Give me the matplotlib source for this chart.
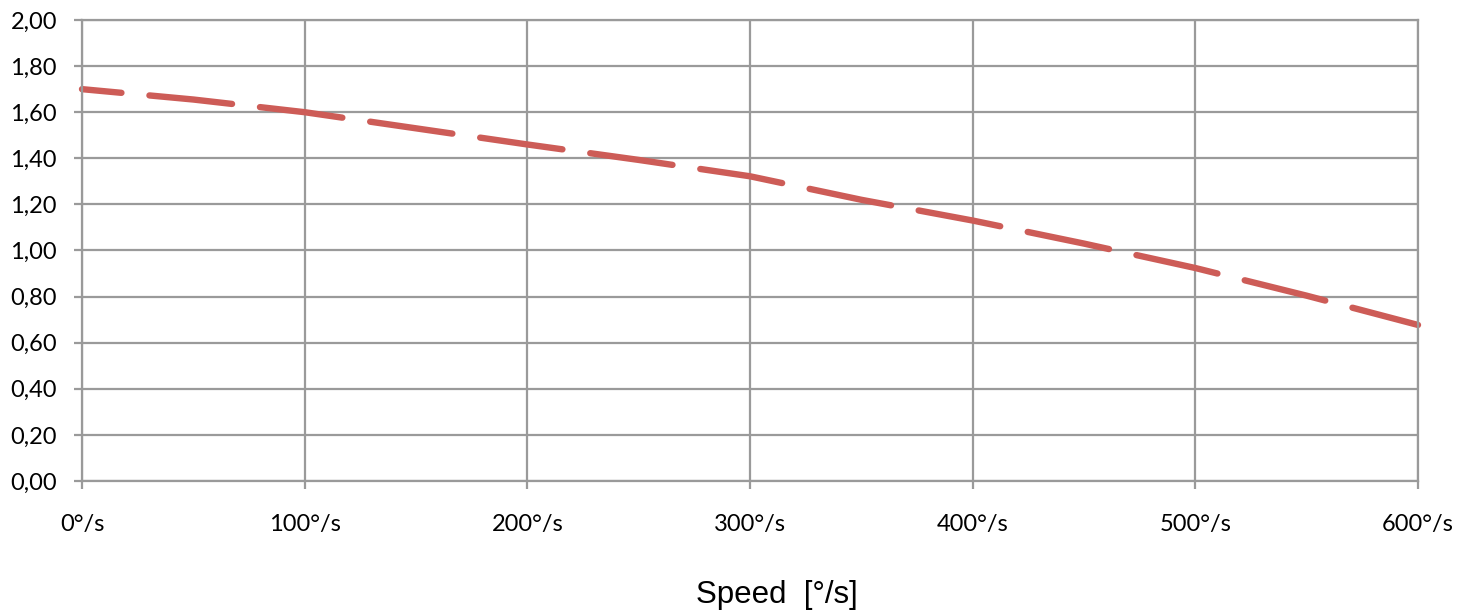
import matplotlib
matplotlib.use("Agg")
import matplotlib.pyplot as plt
from matplotlib.ticker import FixedLocator

speed = [0, 50, 100, 150, 200, 250, 300, 350, 400, 450, 500, 550, 600]
values = [1.70, 1.655, 1.60, 1.53, 1.46, 1.393, 1.322, 1.22, 1.13, 1.03, 0.924, 0.804, 0.677]
x_ticks = [0, 100, 200, 300, 400, 500, 600]
x_labels = ["0°/s", "100°/s", "200°/s", "300°/s", "400°/s", "500°/s", "600°/s"]
y_ticks = [0.0, 0.2, 0.4, 0.6, 0.8, 1.0, 1.2, 1.4, 1.6, 1.8, 2.0]
y_labels = ["0,00", "0,20", "0,40", "0,60", "0,80", "1,00", "1,20", "1,40", "1,60", "1,80", "2,00"]
x_title = "Speed  [°/s]"

W, H = 1472, 613
fig = plt.figure(figsize=(W / 100, H / 100), dpi=100)
ax = fig.add_axes([82 / W, 1 - 481 / H, (1418 - 82) / W, (481 - 20) / H])

grid_c = "#9a9a9a"
ax.set_xlim(0, 600)
ax.set_ylim(0, 2)
ax.xaxis.set_major_locator(FixedLocator(x_ticks))
ax.yaxis.set_major_locator(FixedLocator(y_ticks))
ax.set_xticklabels(x_labels, fontfamily="Lato", fontsize=17)
ax.set_yticklabels(y_labels, fontfamily="Lato", fontsize=17)
ax.grid(True, color=grid_c, linewidth=1.6)
ax.set_axisbelow(True)
for s in ax.spines.values():
    s.set_color(grid_c)
    s.set_linewidth(1.6)
ax.tick_params(axis="both", direction="out", length=6, width=1.6, color=grid_c)
ax.tick_params(axis="x", pad=18)
ax.tick_params(axis="y", pad=12)

line, = ax.plot(speed, values, color="#cd5c57", linewidth=4.6,
                dash_capstyle="round", solid_capstyle="round", clip_on=False,
                linestyle=(6.8, (13.0, 4.4)))

fig.text(777 / W, 1 - 603 / H, x_title, fontfamily="Liberation Sans", fontsize=22.5,
         ha="center", va="baseline")

fig.savefig("out.png", dpi=100)
